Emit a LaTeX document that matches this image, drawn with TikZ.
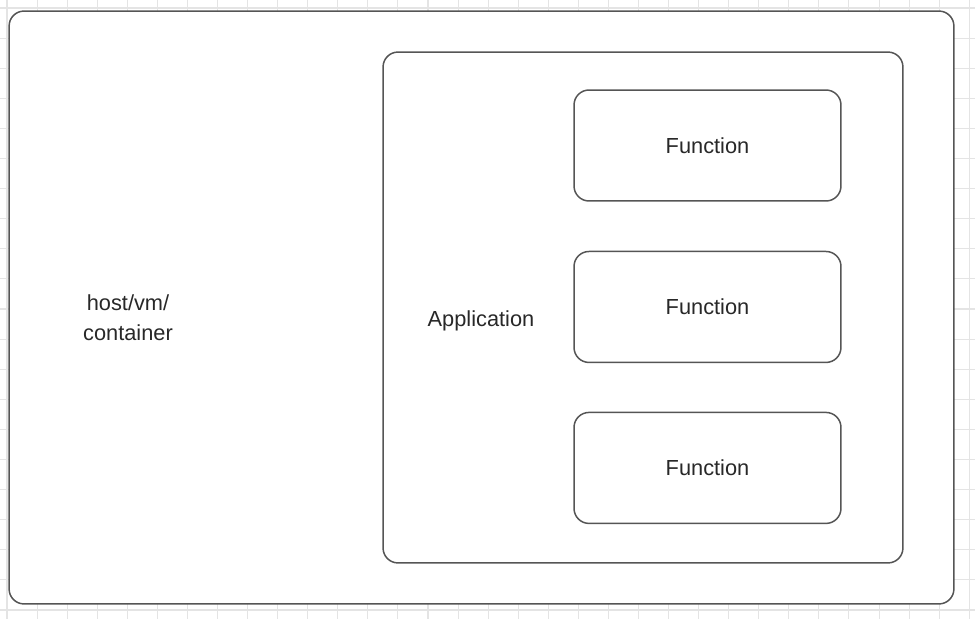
\documentclass[tikz,border=0pt]{standalone}
\usepackage{fontspec}
\setmainfont{Liberation Sans}
\usepackage{tikz}
\usepackage{xcolor}
\usetikzlibrary{positioning}
\definecolor{GridGray}{RGB}{228,228,228}
\definecolor{EdgeGray}{RGB}{85,85,85}
\definecolor{InkGray}{RGB}{40,40,40}

\begin{document}
\begin{tikzpicture}[x=0.02cm, y=-0.02cm, every node/.style={font=\fontsize{12.4}{17}\selectfont, text=InkGray}]
\useasboundingbox (0,0) rectangle (975,619);
\foreach \k in {0,...,32} \draw[GridGray, line width=0.6pt] ({7+30.07*\k},0) -- ({7+30.07*\k},619);
\foreach \k in {0,...,20} \draw[GridGray, line width=0.6pt] (0,{8+30.1*\k}) -- (975,{8+30.1*\k});

\node[draw=EdgeGray, line width=0.85pt, rounded corners=0.3cm, fill=white, minimum width=18.9cm, minimum height=11.86cm] (host) at (481.5,307.5) {};
\node[align=center] (hostlabel) at (128,318) {host/vm/\\container};
\node[draw=EdgeGray, line width=0.85pt, rounded corners=0.3cm, minimum width=10.4cm, minimum height=10.22cm] (app) at (643,307.5) {};
\node (applabel) at (481,321) {Application};
\node[draw=EdgeGray, line width=0.85pt, rounded corners=0.3cm, minimum width=5.34cm, minimum height=2.22cm] (func1) at (707.5,145.5) {Function};
\node[draw=EdgeGray, line width=0.85pt, rounded corners=0.3cm, below=0.98cm of func1, minimum width=5.34cm, minimum height=2.22cm] (func2) {Function};
\node[draw=EdgeGray, line width=0.85pt, rounded corners=0.3cm, below=0.97cm of func2, minimum width=5.34cm, minimum height=2.22cm] (func3) {Function};
\end{tikzpicture}
\end{document}
